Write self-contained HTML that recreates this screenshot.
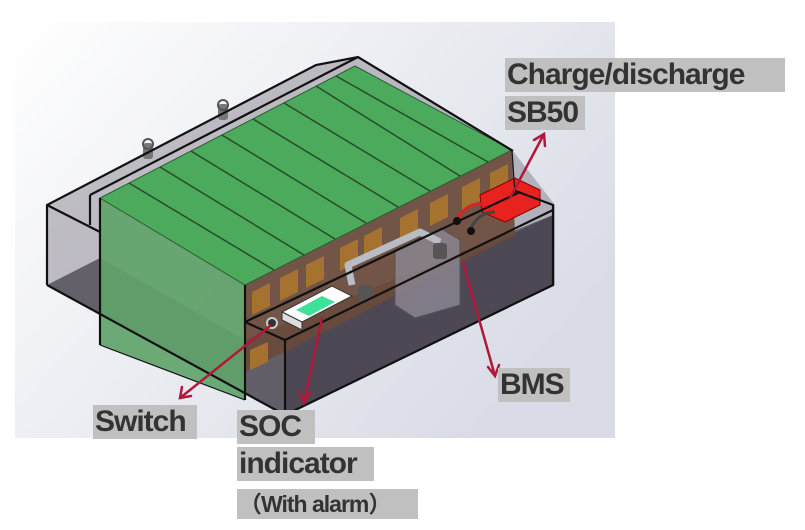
<!DOCTYPE html>
<html><head><meta charset="utf-8"><style>
html,body{margin:0;padding:0;background:#fff;}
.l{position:absolute;background:#c0c0c0;color:#333;font-family:"Liberation Sans",sans-serif;font-weight:bold;font-size:30px;line-height:34px;padding:0 2px;letter-spacing:-1px;white-space:nowrap;}
</style></head><body>
<div style="position:relative;width:805px;height:530px;overflow:hidden;">
<svg width="805" height="530" style="position:absolute;left:0;top:0">
<defs>
<linearGradient id="bg" x1="0" y1="0" x2="1" y2="0.6">
<stop offset="0" stop-color="#ffffff"/><stop offset="1" stop-color="#d9dce6"/></linearGradient>
</defs>
<rect x="15" y="22" width="600" height="416" fill="url(#bg)"/>
<!-- box interior translucent -->
<polygon points="47,205 316,65 358,57 513,151 555,205 555,285 285,415 47,285" fill="#7d7682" opacity="0.45"/>
<!-- dark bottom -->
<polygon points="47,285 100,258 245,340 553,215 553,285 285,415" fill="#3f3a44" opacity="0.7"/>
<polygon points="285,340 553,215 553,285 285,415" fill="#4a4450" opacity="0.85"/>
<!-- green left face -->
<polygon points="100,198 245,285 245,400 100,345" fill="#5fa36a" opacity="0.92"/>
<!-- cell ends (brown) -->
<polygon points="245,285 512,150 515,235 245,372" fill="#6a4a3a" opacity="0.9"/>
<g fill="#a8742e" opacity="0.95">
<polygon points="252,292 270,283 270,306 252,315"/>
<polygon points="280,278 298,269 298,292 280,301"/>
<polygon points="306,265 324,256 324,279 306,288"/>
<polygon points="340,248 358,239 358,262 340,271"/>
<polygon points="364,236 382,227 382,250 364,259"/>
<polygon points="400,218 418,209 418,232 400,241"/>
<polygon points="430,203 448,194 448,217 430,226"/>
<polygon points="462,187 480,178 480,201 462,210"/>
<polygon points="490,173 508,164 508,187 490,196"/>
<polygon points="250,350 268,342 268,362 250,370"/>
</g>
<!-- green top -->
<polygon points="100,198 355,66 512,150 245,285" fill="#4caa5c" stroke="#2b5e33" stroke-width="1"/>
<g stroke="#2a4a2a" stroke-width="1.5">
<line x1="129" y1="183" x2="274" y2="270"/>
<line x1="160" y1="167" x2="304" y2="255"/>
<line x1="191" y1="151" x2="335" y2="239"/>
<line x1="222" y1="135" x2="366" y2="223"/>
<line x1="253" y1="119" x2="398" y2="207"/>
<line x1="284" y1="103" x2="430" y2="191"/>
<line x1="316" y1="86" x2="460" y2="176"/>
<line x1="336" y1="76" x2="488" y2="162"/>
</g>
<!-- lifting eyes -->
<rect x="143" y="143" width="10" height="16" fill="#777" rx="3"/><circle cx="148" cy="144" r="5" fill="none" stroke="#555" stroke-width="2"/>
<rect x="218" y="104" width="10" height="16" fill="#777" rx="3"/><circle cx="223" cy="105" r="5" fill="none" stroke="#555" stroke-width="2"/>
<!-- BMS block -->
<polygon points="395,250 440,228 460,240 460,305 415,318 395,305" fill="#8a8490" stroke="#555" opacity="0.85"/>
<!-- cable pipe -->
<polyline points="352,285 348,265 420,232 440,242" fill="none" stroke="#b8bcc4" stroke-width="7" stroke-linejoin="round"/>
<rect x="358" y="285" width="14" height="16" fill="#555" rx="3"/>
<rect x="433" y="243" width="14" height="16" fill="#555" rx="3"/>
<!-- red connector -->
<polygon points="480,195 515,178 540,190 540,205 505,222 482,212" fill="#e8231f" stroke="#8a0000"/>
<path d="M458 218 Q470 200 485 205" stroke="#d22" stroke-width="3" fill="none"/>
<path d="M470 230 Q478 212 495 212" stroke="#444" stroke-width="3" fill="none"/>
<circle cx="457" cy="221" r="4" fill="#111"/><circle cx="471" cy="231" r="4" fill="#111"/>
<!-- SOC display -->
<polygon points="282,312 332,286 352,296 302,322" fill="#fff" stroke="#333"/>
<polygon points="282,312 302,322 302,330 282,320" fill="#ddd" stroke="#333"/>
<polygon points="296,310 322,296 335,302 309,316" fill="#3ee09a"/>
<circle cx="272" cy="323" r="5" fill="#333" stroke="#ccc" stroke-width="2"/>
<!-- box outlines -->
<g stroke="#111" stroke-width="2.2" fill="none">
<polyline points="47,285 47,205 316,65 358,57 513,151"/>
<line x1="90" y1="195" x2="358" y2="57"/>
<line x1="90" y1="195" x2="90" y2="225"/>
<line x1="47" y1="205" x2="100" y2="232"/>
<line x1="100" y1="198" x2="100" y2="345"/>
<polyline points="47,285 285,415 553,285 553,205 513,190"/>
<polyline points="245,322 285,340 553,210"/>
<line x1="245" y1="322" x2="520" y2="192"/>
<line x1="285" y1="340" x2="285" y2="415"/>
<line x1="245" y1="285" x2="245" y2="400"/>
<line x1="100" y1="345" x2="245" y2="400" stroke-width="1.2"/>
<line x1="512" y1="150" x2="515" y2="195" stroke-width="1.2"/>
</g>
<!-- arrows -->
<g stroke="#b0183c" stroke-width="2.5" fill="none" stroke-linecap="round">
<line x1="510" y1="198" x2="544" y2="134"/><polyline points="534,140 544,134 545,146"/>
<line x1="463" y1="262" x2="495" y2="376"/><polyline points="488,367 495,376 499,365"/>
<line x1="270" y1="326" x2="180" y2="398"/><polyline points="182,387 180,398 191,396"/>
<line x1="322" y1="318" x2="304" y2="403"/><polyline points="299,392 304,403 310,393"/>
</g>
</svg>
<div class="l" style="left:505px;top:58px;width:276px;">Charge/discharge</div>
<div class="l" style="left:505px;top:96px;width:76px;">SB50</div>
<div class="l" style="left:498px;top:368px;width:68px;">BMS</div>
<div class="l" style="left:93px;top:405px;width:100px;">Switch</div>
<div class="l" style="left:237px;top:410px;width:74px;">SOC</div>
<div class="l" style="left:237px;top:447px;width:133px;">indicator</div>
<div class="l" style="left:237px;top:489px;width:177px;font-size:23px;line-height:30px;font-family:'Liberation Sans','Noto Sans CJK SC',sans-serif;">（With alarm）</div>
</div>
</body></html>
